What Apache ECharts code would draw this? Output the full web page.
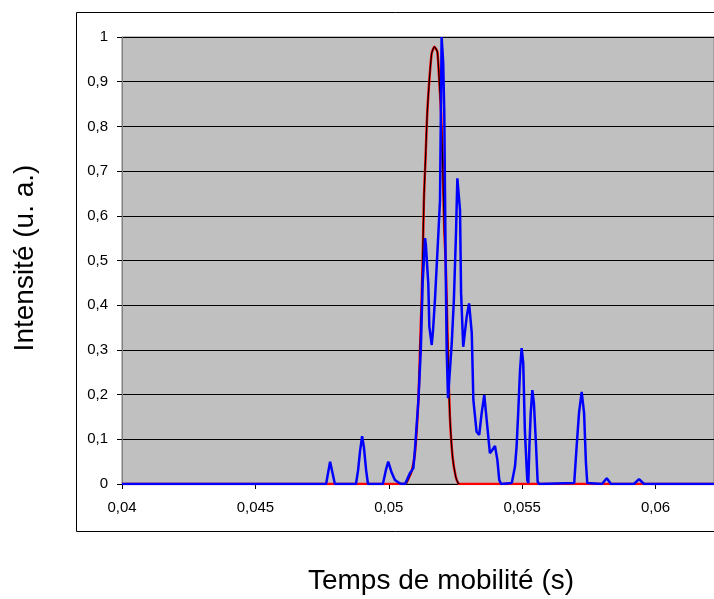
<!DOCTYPE html>
<html>
<head>
<meta charset="utf-8">
<script src="https://cdn.jsdelivr.net/npm/echarts@6/dist/echarts.min.js"></script>
<style>
  html, body { margin: 0; padding: 0; background: #fff; }
  #chart { width: 714px; height: 599px; }
</style>
</head>
<body>
<div id="chart"></div>
<script>
// blue trace (time in s, intensity)
var blueX = [0.04, 0.04765, 0.04780, 0.04798, 0.04877, 0.04885, 0.04892, 0.04900, 0.04907, 0.04915, 0.04922,
  0.04978, 0.04989, 0.04998, 0.05011, 0.05023, 0.05042, 0.05061, 0.05079, 0.05092, 0.05098, 0.05111, 0.05120,
  0.05127, 0.05136, 0.05139, 0.05148, 0.05152, 0.05161, 0.05166, 0.05173, 0.05186, 0.05192, 0.05198, 0.05204,
  0.05208, 0.05213, 0.05217, 0.05222, 0.05236, 0.05244, 0.05252, 0.05257, 0.05267, 0.05271, 0.05279, 0.05292,
  0.05301, 0.05311, 0.05317, 0.05329, 0.05339, 0.05348, 0.05358, 0.05367, 0.05379, 0.05388, 0.05398, 0.05407,
  0.05414, 0.05421, 0.05461, 0.05473, 0.05479, 0.05485, 0.05492, 0.05498, 0.05504, 0.05510, 0.05519, 0.05523,
  0.05527, 0.05532, 0.05538, 0.05544, 0.05551, 0.05558, 0.05563, 0.05695, 0.05704, 0.05713, 0.05723, 0.05732,
  0.05739, 0.05744, 0.05799, 0.05817, 0.05833, 0.05919, 0.05938, 0.05957, 0.06219];
var blueY = [0, 0, 0.050, 0, 0, 0.031, 0.072, 0.107, 0.081, 0.031, 0,
  0, 0.031, 0.050, 0.025, 0.009, 0.001, 0, 0.024, 0.035, 0.076, 0.188, 0.300,
  0.450, 0.550, 0.535, 0.449, 0.352, 0.311, 0.345, 0.412, 0.562, 0.635, 1.0, 0.942,
  0.830, 0.501, 0.300, 0.192, 0.315, 0.412, 0.562, 0.684, 0.613, 0.427, 0.307, 0.374,
  0.404, 0.338, 0.188, 0.117, 0.110, 0.158, 0.199, 0.143, 0.069, 0.076, 0.085, 0.054,
  0.009, 0, 0.002, 0.039, 0.083, 0.158, 0.255, 0.304, 0.271, 0.121, 0.009, 0.002,
  0.083, 0.158, 0.210, 0.181, 0.098, 0.005, 0, 0.002, 0.083, 0.159, 0.206, 0.159,
  0.047, 0.002, 0, 0.013, 0, 0, 0.011, 0, 0];

// red trace
var redX = [0.04, 0.05061, 0.05073, 0.05086, 0.05098, 0.05111, 0.05117, 0.05123, 0.05127, 0.05132, 0.05138,
  0.05144, 0.05152, 0.05161, 0.05171, 0.05182, 0.05189, 0.05196, 0.05202, 0.05208, 0.05213, 0.05217, 0.05223,
  0.05229, 0.05239, 0.05251, 0.05260, 0.05267, 0.06219];
var redY = [0, 0, 0.011, 0.029, 0.069, 0.188, 0.300, 0.412, 0.501, 0.643, 0.732,
  0.829, 0.904, 0.964, 0.978, 0.967, 0.904, 0.830, 0.718, 0.568, 0.501, 0.412, 0.262,
  0.151, 0.061, 0.016, 0.002, 0, 0];

// black trace (only around the main peak)
var blackX = [0.05065, 0.05073, 0.05086, 0.05098, 0.05111, 0.05117, 0.05123, 0.05127, 0.05132, 0.05138,
  0.05144, 0.05152, 0.05161, 0.05171, 0.05182, 0.05189, 0.05196, 0.05202, 0.05208, 0.05213, 0.05217, 0.05223,
  0.05229, 0.05239, 0.05251, 0.05260, 0.05265];
var blackY = [0, 0.011, 0.029, 0.069, 0.188, 0.300, 0.412, 0.501, 0.643, 0.732,
  0.829, 0.904, 0.964, 0.978, 0.967, 0.904, 0.830, 0.718, 0.568, 0.501, 0.412, 0.262,
  0.151, 0.061, 0.016, 0.002, 0];

function pairs(xs, ys) {
  return xs.map(function (x, i) { return [x, ys[i]]; });
}
function comma(v) {
  return String(parseFloat(v.toFixed(4))).replace('.', ',');
}

var myChart = echarts.init(document.getElementById('chart'));
var font = 'Liberation Sans, Arial, sans-serif';

myChart.setOption({
  animation: false,
  backgroundColor: '#fff',
  grid: {
    left: 122, top: 37, right: -1, bottom: 115,
    show: true, backgroundColor: '#c0c0c0', borderColor: '#808080', borderWidth: 1
  },
  xAxis: {
    type: 'value', min: 0.04, max: 0.06219, interval: 0.005,
    axisLine: { lineStyle: { color: '#000', width: 1 } },
    axisTick: { length: 5, lineStyle: { color: '#000' } },
    axisLabel: { color: '#000', fontSize: 15, fontFamily: font, margin: 16,
      showMaxLabel: false, formatter: comma },
    splitLine: { show: false }
  },
  yAxis: {
    type: 'value', min: 0, max: 1, interval: 0.1,
    axisLine: { show: true, lineStyle: { color: '#808080', width: 1 } },
    axisTick: { show: true, length: 5, lineStyle: { color: '#000' } },
    axisLabel: { color: '#000', fontSize: 15, fontFamily: font, margin: 14, formatter: comma },
    splitLine: { lineStyle: { color: '#000', width: 1 } }
  },
  graphic: [
    { type: 'rect', shape: { x: 76.5, y: 12.5, width: 660, height: 519 },
      style: { fill: 'none', stroke: '#000', lineWidth: 1 }, z: -1 },
    { type: 'text', x: 25, y: 258, rotation: Math.PI / 2,
      style: { text: 'Intensité (u. a.)', font: '28px ' + font, fill: '#000',
        textAlign: 'center', textVerticalAlign: 'middle' } },
    { type: 'text', x: 441, y: 581,
      style: { text: 'Temps de mobilité (s)', font: '28px ' + font, fill: '#000',
        textAlign: 'center', textVerticalAlign: 'middle' } }
  ],
  series: [
    { type: 'line', data: pairs(redX, redY), showSymbol: false, smooth: 0.2,
      lineStyle: { color: '#ff0000', width: 2.5 }, z: 2 },
    { type: 'line', data: pairs(blackX, blackY), showSymbol: false, smooth: 0.2,
      lineStyle: { color: '#000', width: 1.2 }, z: 3 },
    { type: 'line', data: pairs(blueX, blueY), showSymbol: false,
      lineStyle: { color: '#0000ff', width: 2.5 }, z: 4 }
  ]
});
</script>
</body>
</html>
